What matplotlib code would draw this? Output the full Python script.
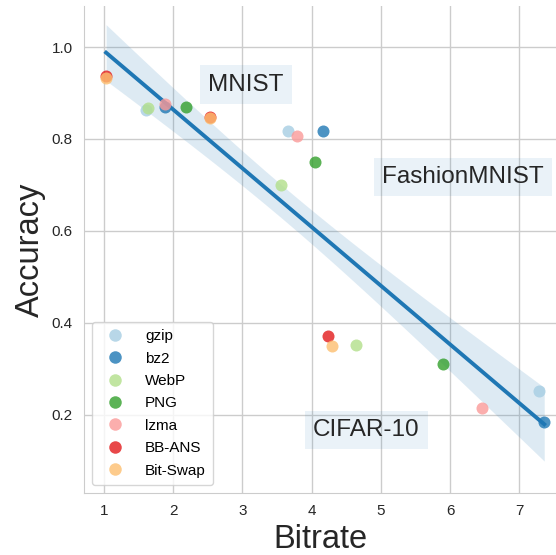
import numpy as np
import matplotlib.pyplot as plt
from matplotlib.lines import Line2D

plt.rcParams['font.family'] = ['Liberation Sans', 'DejaVu Sans']

methods = ['gzip', 'bz2', 'WebP', 'PNG', 'lzma', 'BB-ANS', 'Bit-Swap']
colors = ['#a6cee3', '#1f78b4', '#b2df8a', '#33a02c', '#fb9a99', '#e31a1c', '#fdbf6f']

# bitrate / accuracy per method, one list per dataset
mnist_bitrate = [1.61, 1.88, 1.64, 2.18, 1.88, 1.03, 1.03]
mnist_acc = [0.863, 0.870, 0.867, 0.869, 0.876, 0.938, 0.933]
fashion_bitrate = [3.66, 4.16, 3.56, 4.05, 3.79, 2.53, 2.53]
fashion_acc = [0.817, 0.818, 0.700, 0.749, 0.807, 0.848, 0.845]
cifar_bitrate = [7.29, 7.36, 4.64, 5.90, 6.46, 4.24, 4.29]
cifar_acc = [0.252, 0.185, 0.352, 0.311, 0.215, 0.371, 0.349]

fig = plt.figure(figsize=(5.56, 5.55), dpi=100)
ax = fig.add_axes([0.151, 0.112, 0.849, 0.877])

# regression over all points + confidence band
x = np.array(mnist_bitrate + fashion_bitrate + cifar_bitrate)
y = np.array(mnist_acc + fashion_acc + cifar_acc)
n = len(x)
b, a = np.polyfit(x, y, 1)
xg = np.linspace(x.min(), x.max(), 100)
yg = a + b * xg
resid = y - (a + b * x)
s = np.sqrt(np.sum(resid ** 2) / (n - 2))
se = s * np.sqrt(1 / n + (xg - x.mean()) ** 2 / np.sum((x - x.mean()) ** 2))
ax.fill_between(xg, yg - 1.35 * se, yg + 1.35 * se, color='#1f77b4', alpha=0.15, lw=0, zorder=1)
ax.plot(xg, yg, color='#1f77b4', lw=2.8, zorder=2)

for i, m in enumerate(methods):
    ax.scatter([mnist_bitrate[i], fashion_bitrate[i], cifar_bitrate[i]],
               [mnist_acc[i], fashion_acc[i], cifar_acc[i]],
               s=75, color=colors[i], alpha=0.8, lw=0, zorder=3)

box = dict(facecolor='#1f77b4', alpha=0.09, edgecolor='none', pad=6)
ax.text(3.05, 0.918, 'MNIST', fontsize=17.5, color='#262626', ha='center', va='center', bbox=box)
ax.text(6.19, 0.717, 'FashionMNIST', fontsize=17.5, color='#262626', ha='center', va='center', bbox=box)
ax.text(4.79, 0.167, 'CIFAR-10', fontsize=17.5, color='#262626', ha='center', va='center', bbox=box)

handles = [Line2D([], [], marker='o', ls='', color=c, alpha=0.8, markersize=9, markeredgewidth=0)
           for c in colors]
leg = ax.legend(handles, methods, loc='lower left', fontsize=11, labelspacing=0.55,
                handletextpad=1.0, borderpad=0.5, bbox_to_anchor=(0.0, 0.0),
                frameon=True, fancybox=True)
leg.get_frame().set_edgecolor('#cccccc')

ax.set_xlim(0.71, 7.53)
ax.set_ylim(0.03, 1.089)
ax.set_xticks([1, 2, 3, 4, 5, 6, 7])
ax.set_yticks([0.2, 0.4, 0.6, 0.8, 1.0])
ax.grid(True, color='#cccccc', lw=1)
ax.set_axisbelow(True)
for side in ['top', 'right']:
    ax.spines[side].set_visible(False)
for side in ['left', 'bottom']:
    ax.spines[side].set_color('#cccccc')
ax.tick_params(length=0, labelsize=11, labelcolor='#262626', pad=8)
ax.set_xlabel('Bitrate', fontsize=23.5, color='#262626')
ax.set_ylabel('Accuracy', fontsize=23.5, color='#262626')

fig.savefig('out.png', dpi=100)
